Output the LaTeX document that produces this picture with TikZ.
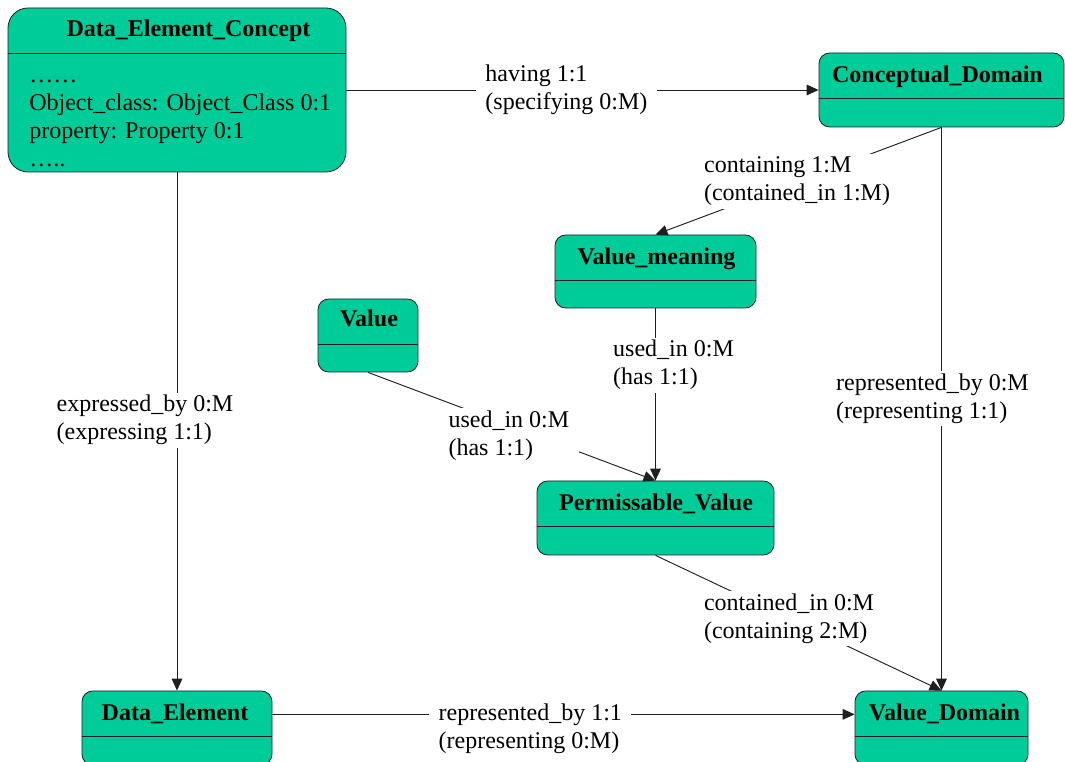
\documentclass[tikz,border=0pt]{standalone}
\usepackage{fontspec}
\setmainfont{Liberation Serif}
\usepackage{xcolor}
\definecolor{umlgreen}{HTML}{00CC99}
\definecolor{umlline}{HTML}{1F1F1F}
\usetikzlibrary{arrows.meta,positioning,calc}

\begin{document}
\begin{tikzpicture}[x=0.75pt, y=-0.75pt,
  cls/.style={draw=umlline, fill=umlgreen, rounded corners=8pt,
              line width=0.6pt, inner sep=0pt},
  ttl/.style={anchor=base, inner sep=0pt,
              font=\fontsize{18}{21}\selectfont\bfseries},
  lbl/.style={fill=white, align=left, inner xsep=7pt, inner ysep=2pt,
              font=\fontsize{18}{21}\selectfont},
  rel/.style={draw=umlline, line width=0.7pt},
  dir/.style={rel, -{Triangle[length=9pt,width=8pt]}}
]
\useasboundingbox (0,0) rectangle (1065,762);
\clip (0,0) rectangle (1065,762);

%% Classes
\node[cls, rounded corners=15pt, minimum width=253.5pt, minimum height=123pt] (dec) at (177,90) {};
\node[cls, minimum width=183.75pt, minimum height=55.5pt] (cd)  at (941.5,90) {};
\node[cls, minimum width=150.75pt, minimum height=54.75pt] (vm) at (655.5,271.5) {};
\node[cls, minimum width=75pt, minimum height=54.75pt] (val)   at (368,335.5) {};
\node[cls, minimum width=177.75pt, minimum height=55.5pt] (pv)  at (655.5,518) {};
\node[cls, minimum width=142.5pt, minimum height=55.5pt] (de)   at (177,728) {};
\node[cls, minimum width=129.75pt, minimum height=55.5pt] (vd)  at (941.5,728) {};

\foreach \c in {dec,cd,vm,val,pv,de,vd}
  \draw[draw=umlline, line width=0.6pt]
    ($(\c.north west)+(0,46)$) -- ($(\c.north east)+(0,46)$);

\node[ttl] (dect) at (188.5,37) {Data\_Element\_Concept};
\node[ttl] (cdt)  at (937.5,83) {Conceptual\_Domain};
\node[ttl] (vmt)  at (656.5,265) {Value\_meaning};
\node[ttl] (valt) at (369,327) {Value};
\node[ttl] (pvt)  at (656,511) {Permissable\_Value};
\node[ttl] (det)  at (175,721) {Data\_Element};
\node[ttl] (vdt)  at (944.5,721) {Value\_Domain};

\node[anchor=north west, align=left, inner sep=0pt,
      font=\fontsize{18}{21}\selectfont] (decb) at (29,62.4)
  {\strut……\\Object\_class: Object\_Class 0:1\\property: Property 0:1\\…..};

%% Associations
\draw[dir] (dec.east) -- (cd.west)
  node[lbl, pos=0.466] (l1) {having 1:1\\(specifying 0:M)};
\draw[dir] (cd.south) -- (vm.north)
  node[lbl, pos=0.505] (l2) {containing 1:M\\(contained\_in 1:M)};
\draw[dir] (cd.south) -- (vd.north)
  node[lbl, pos=0.482, xshift=-6.75pt] (l3) {represented\_by 0:M\\(representing 1:1)};
\draw[dir] (vm.south) -- (pv.north)
  node[lbl, pos=0.33, xshift=13.5pt] (l4) {used\_in 0:M\\(has 1:1)};
\draw[dir] (val.south) -- (pv.north)
  node[lbl, pos=0.49, yshift=-7.5pt] (l5) {used\_in 0:M\\(has 1:1)};
\draw[dir] (pv.south) -- (vd.north)
  node[lbl, pos=0.467] (l6) {contained\_in 0:M\\(containing 2:M)};
\draw[dir] (dec.south) -- (de.north)
  node[lbl, pos=0.478, xshift=-24pt] (l7) {expressed\_by 0:M\\(expressing 1:1)};
\draw[dir] (det -| de.east) -- (det -| vd.west)
  node[lbl, pos=0.443, yshift=-10.5pt] (l8) {represented\_by 1:1\\(representing 0:M)};

\end{tikzpicture}
\end{document}
